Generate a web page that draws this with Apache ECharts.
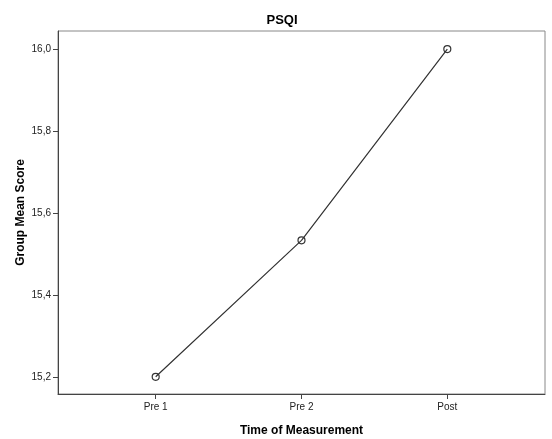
<!DOCTYPE html>
<html><head><meta charset="utf-8">
<script src="https://cdn.jsdelivr.net/npm/echarts@6/dist/echarts.min.js"></script>
<style>html,body{margin:0;padding:0;background:#fff}#c{width:552px;height:439px}</style>
</head><body><div id="c"></div>
<script>
const categories = ['Pre 1', 'Pre 2', 'Post'];
const values = [15.2, 15.533, 16.0];
const yTicks = [15.2, 15.4, 15.6, 15.8, 16.0];
const title = 'PSQI';
const xName = 'Time of Measurement';
const yName = 'Group Mean Score';

const chart = echarts.init(document.getElementById('c'), null, {renderer: 'canvas'});
const xIdx = categories.map((c, i) => i);
chart.setOption({
  animation: false,
  backgroundColor: '#fff',
  title: {text: title, left: 277, top: 9, textAlign: 'center',
    textStyle: {fontFamily: 'Liberation Sans', fontSize: 13, fontWeight: 'bold', color: '#000'}},
  grid: {left: 58, top: 31, right: 7, bottom: 45, show: true, borderColor: '#888', borderWidth: 1,
    backgroundColor: '#fff', containLabel: false, outerBoundsMode: 'none'},
  xAxis: {
    type: 'value', min: -0.67, max: 2.67,
    name: xName, nameLocation: 'middle', nameGap: 31,
    nameTextStyle: {fontFamily: 'Liberation Sans', fontSize: 12, fontWeight: 'bold', color: '#000'},
    axisLine: {show: true, onZero: false, lineStyle: {color: '#444', width: 1}},
    axisTick: {show: true, customValues: xIdx, length: 5, lineStyle: {color: '#444'}},
    axisLabel: {customValues: xIdx, formatter: v => categories[Math.round(v)], margin: 8,
      fontFamily: 'Liberation Sans', fontSize: 10, color: '#222'},
    splitLine: {show: false}
  },
  yAxis: {
    type: 'value', min: 15.158, max: 16.044,
    name: yName, nameLocation: 'middle', nameGap: 31, nameMoveOverlap: false,
    nameTextStyle: {fontFamily: 'Liberation Sans', fontSize: 12, fontWeight: 'bold', color: '#000'},
    axisLine: {show: true, onZero: false, lineStyle: {color: '#444', width: 1}},
    axisTick: {show: true, customValues: yTicks, length: 5, lineStyle: {color: '#444'}},
    axisLabel: {customValues: yTicks, formatter: v => v.toFixed(1).replace('.', ','), margin: 7,
      fontFamily: 'Liberation Sans', fontSize: 10, color: '#222'},
    splitLine: {show: false}
  },
  series: [{
    type: 'line',
    data: values.map((v, i) => [i, v]),
    symbol: 'circle', symbolSize: 7,
    lineStyle: {color: '#333', width: 1.2},
    itemStyle: {color: 'rgba(255,255,255,0)', borderColor: '#333', borderWidth: 1.2}
  }]
});
</script></body></html>
